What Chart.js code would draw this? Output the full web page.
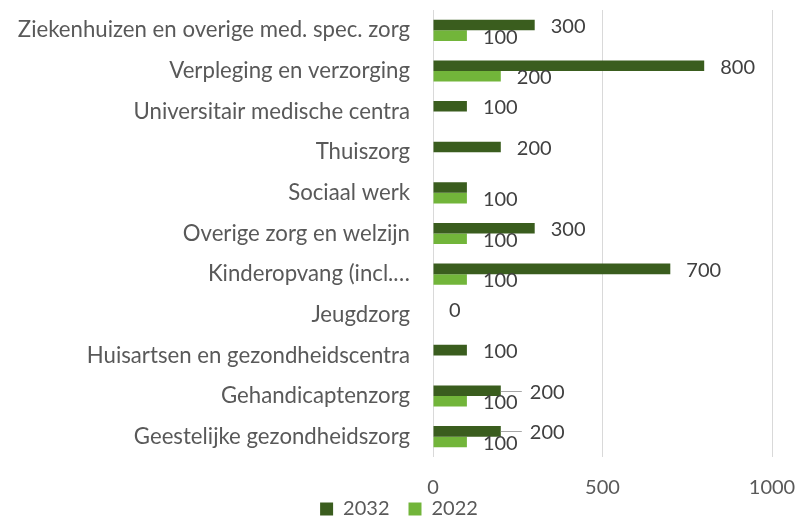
<!DOCTYPE html>
<html>
<head>
<meta charset="utf-8">
<script src="https://cdn.jsdelivr.net/npm/chart.js@4/dist/chart.umd.min.js"></script>
<style>
html,body{margin:0;padding:0;background:#fff;}
#wrap{width:798px;height:520px;position:relative;}
</style>
</head>
<body>
<div id="wrap"><canvas id="c" width="798" height="520"></canvas></div>
<script>
const categories = [
  "Ziekenhuizen en overige med. spec. zorg",
  "Verpleging en verzorging",
  "Universitair medische centra",
  "Thuiszorg",
  "Sociaal werk",
  "Overige zorg en welzijn",
  "Kinderopvang (incl.\u2026",
  "Jeugdzorg",
  "Huisartsen en gezondheidscentra",
  "Gehandicaptenzorg",
  "Geestelijke gezondheidszorg"
];
const series2032 = [300, 800, 100, 200, 100, 300, 700, 0, 100, 200, 200];
const series2022 = [100, 200, null, null, 100, 100, 100, null, null, 100, 100];
const xTicks = [0, 500, 1000];
// labels hidden in the reference (dataset index, category index)
const hiddenLabels = [[0, 4]];
// 2032 labels that were moved aside with a leader line
const leaderLabels = [9, 10];

const FONT = "Lato, 'Open Sans', sans-serif";

const labelPlugin = {
  id: 'valueLabels',
  afterDatasetsDraw(chart) {
    const ctx = chart.ctx;
    ctx.save();
    ctx.font = "20px " + FONT;
    ctx.fillStyle = "#404040";
    ctx.textBaseline = "middle";
    ctx.textAlign = "left";
    chart.data.datasets.forEach((ds, di) => {
      const meta = chart.getDatasetMeta(di);
      meta.data.forEach((el, i) => {
        const v = ds.data[i];
        if (v === null || v === undefined) return;
        if (hiddenLabels.some(h => h[0] === di && h[1] === i)) return;
        let x = el.x + 16, y = el.y + 1.5;
        if (di === 0 && leaderLabels.includes(i)) {
          ctx.save();
          ctx.strokeStyle = "#a6a6a6";
          ctx.lineWidth = 1;
          ctx.beginPath();
          ctx.moveTo(el.x, Math.round(el.y) + 0.5);
          ctx.lineTo(el.x + 21, Math.round(el.y) + 0.5);
          ctx.stroke();
          ctx.restore();
          x = el.x + 29; y = el.y + 1.5;
        }
        ctx.fillText(String(v), x, y);
      });
    });
    ctx.restore();
  }
};

new Chart(document.getElementById('c'), {
  type: 'bar',
  data: {
    labels: categories,
    datasets: [
      { label: '2032', data: series2032, backgroundColor: '#3A5D1E', borderWidth: 0 },
      { label: '2022', data: series2022, backgroundColor: '#72B53A', borderWidth: 0 }
    ]
  },
  options: {
    indexAxis: 'y',
    responsive: false,
    animation: false,
    devicePixelRatio: 1,
    categoryPercentage: 0.52,
    barPercentage: 1.0,
    layout: { padding: { top: 10, right: 0, left: 0, bottom: -9 } },
    plugins: {
      tooltip: { enabled: false },
      legend: {
        position: 'bottom',
        labels: {
          font: { family: FONT, size: 20 },
          color: '#595959',
          boxWidth: 13,
          boxHeight: 13,
          padding: 19
        }
      }
    },
    scales: {
      x: {
        min: 0, max: 1000,
        afterBuildTicks(scale) { scale.ticks = xTicks.map(v => ({ value: v })); },
        afterFit(scale) {
          scale.height = 23; scale.paddingLeft = 0; scale.paddingRight = 26;
          scale._computeLabelArea = function () { return undefined; };
        },
        grid: { color: '#d9d9d9', lineWidth: 1, drawTicks: false },
        border: { display: false },
        ticks: { font: { family: FONT, size: 20 }, color: '#595959', padding: 19, maxRotation: 0,
                 callback: (v) => String(v) }
      },
      y: {
        afterFit(scale) { scale.width = 433; scale.paddingTop = 0; scale.paddingBottom = 0; },
        grid: { display: false },
        border: { display: false },
        ticks: { font: { family: FONT, size: 22.2 }, color: '#595959', padding: 15, autoSkip: false }
      }
    }
  },
  plugins: [labelPlugin]
});
</script>
</body>
</html>
